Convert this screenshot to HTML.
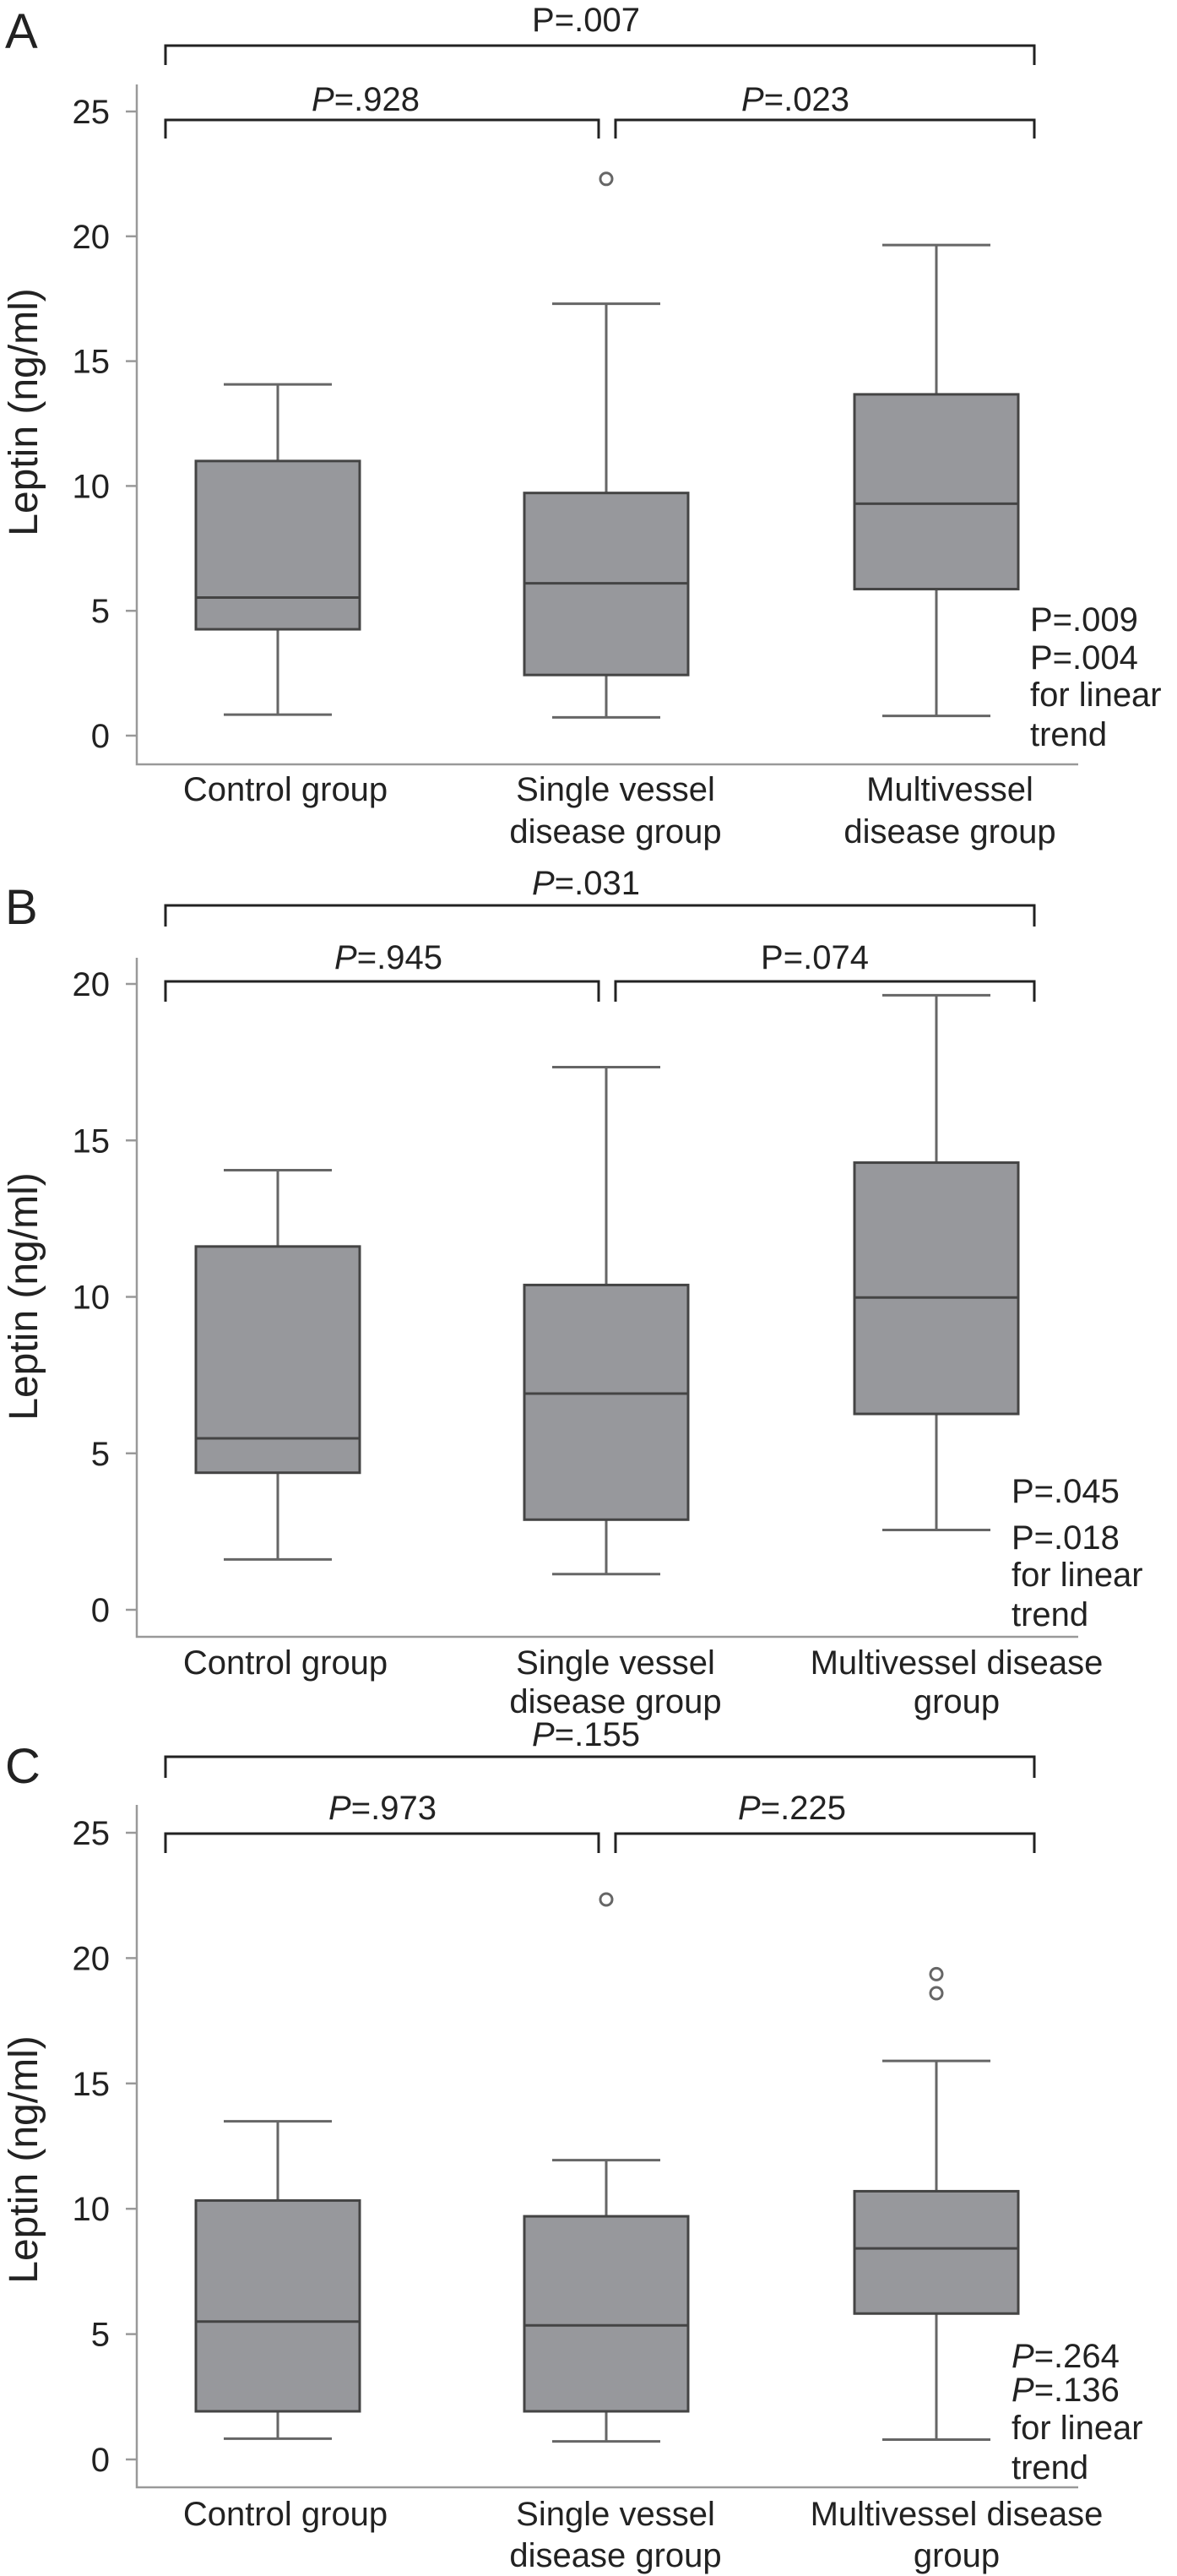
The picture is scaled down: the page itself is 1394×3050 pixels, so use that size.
<!DOCTYPE html>
<html><head><meta charset="utf-8"><style>
html,body{margin:0;padding:0;background:#fff;}
svg{display:block;font-family:"Liberation Sans",sans-serif;}
text{fill:#222;}
</style></head><body>
<svg id="chart" width="1394" height="3050" viewBox="0 0 1394 3050" xmlns="http://www.w3.org/2000/svg"></svg>
<script>
const categories = ["Control group", "Single vessel disease group", "Multivessel disease group"];
// [low whisker, Q1, median, Q3, high whisker]
const panelAStats = [[0.84,4.26,5.53,11.0,14.07],[0.73,2.43,6.1,9.72,17.3],[0.79,5.87,9.29,13.67,19.65]];
const panelAOutliers = [[],[22.3],[]];
const panelATicks = [0,5,10,15,20,25];
const panelBStats = [[1.61,4.38,5.48,11.61,14.05],[1.14,2.88,6.91,10.38,17.34],[2.55,6.26,9.98,14.29,19.64]];
const panelBOutliers = [[],[],[]];
const panelBTicks = [0,5,10,15,20];
const panelCStats = [[0.83,1.92,5.5,10.33,13.49],[0.72,1.92,5.35,9.7,11.94],[0.79,5.82,8.42,10.7,15.9]];
const panelCOutliers = [[],[22.34],[19.36,18.6]];
const panelCTicks = [0,5,10,15,20,25];

const NS = "http://www.w3.org/2000/svg";
const svg = document.getElementById("chart");
function mk(tag, attrs, parent){
  const e = document.createElementNS(NS, tag);
  for (const k in attrs) e.setAttribute(k, attrs[k]);
  (parent||svg).appendChild(e);
  return e;
}
function txt(parent, x, y, content, size, anchor, italicP){
  const t = mk("text", {x:x, y:y, "font-size":size, "text-anchor":anchor||"middle"}, parent);
  if (italicP){
    const s = document.createElementNS(NS, "tspan");
    s.setAttribute("font-style","italic"); s.textContent = "P";
    t.appendChild(s);
    t.appendChild(document.createTextNode(content.slice(1)));
  } else t.textContent = content;
  return t;
}
const xs = [329, 718, 1109];
const boxHalf = 97, capHalf = 64;
const FS = 40;

function panel(cfg){
  const g = mk("g", {});
  
  
  const yOf = v => cfg.y0 - (v - 0) * cfg.perUnit;
  const L = txt(g, 6, cfg.letterY, cfg.letter, 58, "start");
  
  
  const ax = mk("path", {d:`M162 ${cfg.axisTop} V${cfg.axisBottom} H1277`, fill:"none", stroke:"#999", "stroke-width":2.5}, g);
  
  
  cfg.ticks.forEach(t => {
    const y = yOf(t);
    const tk = mk("line", {x1:149, x2:162, y1:y, y2:y, stroke:"#999", "stroke-width":2.5}, g);
    
    
    const tl = txt(g, 130, y + 14, String(t), FS, "end");
    
    
  });
  const yl = txt(g, 0, 0, "Leptin (ng/ml)", 48, "middle");
  yl.setAttribute("transform", `translate(44 ${cfg.ylabelY}) rotate(-90)`);
  
  
  cfg.stats.forEach((s, i) => {
    const cx = xs[i];
    const bg = mk("g", {stroke:"#444", "stroke-width":3}, g);
    
    
    mk("line", {x1:cx, x2:cx, y1:yOf(s[0]), y2:yOf(s[1]), stroke:"#666"}, bg);
    mk("line", {x1:cx, x2:cx, y1:yOf(s[3]), y2:yOf(s[4]), stroke:"#666"}, bg);
    mk("line", {x1:cx-capHalf, x2:cx+capHalf, y1:yOf(s[0]), y2:yOf(s[0]), stroke:"#666"}, bg);
    mk("line", {x1:cx-capHalf, x2:cx+capHalf, y1:yOf(s[4]), y2:yOf(s[4]), stroke:"#666"}, bg);
    mk("rect", {x:cx-boxHalf, y:yOf(s[3]), width:boxHalf*2, height:yOf(s[1])-yOf(s[3]), fill:"#97989c"}, bg);
    mk("line", {x1:cx-boxHalf, x2:cx+boxHalf, y1:yOf(s[2]), y2:yOf(s[2])}, bg);
    cfg.outliers[i].forEach(o => {
      const c = mk("circle", {cx:cx, cy:yOf(o), r:7, fill:"none", stroke:"#666", "stroke-width":3}, g);
      
      
    });
  });
  const br = (x1, x2, y, d, name) => {
    const p = mk("path", {d:`M${x1} ${y+d} V${y} H${x2} V${y+d}`, fill:"none", stroke:"#222", "stroke-width":3}, g);
    
    
  };
  br(196, 1225, cfg.topBr, cfg.topBrD, 'overall-bracket');
  br(196, 709, cfg.inBr, cfg.inBrD, 'left-bracket');
  br(729, 1225, cfg.inBr, cfg.inBrD, 'right-bracket');
  const p1 = txt(g, 694, cfg.topTextY, cfg.pTop[0], FS, "middle", cfg.pTop[1]);
  
  
  const p2 = txt(g, cfg.pLeftX, cfg.inTextY, cfg.pLeft[0], FS, "middle", cfg.pLeft[1]);
  
  
  const p3 = txt(g, cfg.pRightX, cfg.inTextY, cfg.pRight[0], FS, "middle", cfg.pRight[1]);
  
  
  cfg.trend.forEach((t, i) => {
    const tt = txt(g, cfg.trendX, cfg.trendY[i], t, FS, "start", cfg.trendItalic && i < 2);
    
    
  });
  cfg.catLines.forEach((lines, i) => {
    lines.forEach((ln, j) => {
      const c = txt(g, cfg.catX[i], cfg.catY[j], ln, FS, "middle");
      
      
    });
  });
}

panel({letter:"A", letterY:57, y0:871, perUnit:29.56, ticks:panelATicks, stats:panelAStats, outliers:panelAOutliers,
  axisTop:100, axisBottom:905, ylabelY:488, topBr:54, topBrD:23, inBr:142, inBrD:22,
  topTextY:37, inTextY:131, pTop:["P=.007",false], pLeft:["P=.928",true], pRight:["P=.023",true], pLeftX:433, pRightX:942,
  trend:["P=.009","P=.004","for linear","trend"], trendX:1220, trendY:[747,792,836,883], trendItalic:false,
  catLines:[["Control group"],["Single vessel","disease group"],["Multivessel","disease group"]], catX:[338,729,1125], catY:[948,998]});

panel({letter:"B", letterY:1094, y0:1906, perUnit:37.05, ticks:panelBTicks, stats:panelBStats, outliers:panelBOutliers,
  axisTop:1134, axisBottom:1938, ylabelY:1535, topBr:1072, topBrD:25, inBr:1162, inBrD:24,
  topTextY:1059, inTextY:1147, pTop:["P=.031",true], pLeft:["P=.945",true], pRight:["P=.074",false], pLeftX:460, pRightX:965,
  trend:["P=.045","P=.018","for linear","trend"], trendX:1198, trendY:[1779,1834,1878,1925], trendItalic:false,
  catLines:[["Control group"],["Single vessel","disease group"],["Multivessel disease","group"]], catX:[338,729,1133], catY:[1982,2028]});

panel({letter:"C", letterY:2111, y0:2912, perUnit:29.68, ticks:panelCTicks, stats:panelCStats, outliers:panelCOutliers,
  axisTop:2137, axisBottom:2945, ylabelY:2557, topBr:2080, topBrD:25, inBr:2171, inBrD:23,
  topTextY:2067, inTextY:2154, pTop:["P=.155",true], pLeft:["P=.973",true], pRight:["P=.225",true], pLeftX:453, pRightX:938,
  trend:["P=.264","P=.136","for linear","trend"], trendX:1198, trendY:[2803,2843,2888,2935], trendItalic:true,
  catLines:[["Control group"],["Single vessel","disease group"],["Multivessel disease","group"]], catX:[338,729,1133], catY:[2990,3039]});
</script>
</body></html>
